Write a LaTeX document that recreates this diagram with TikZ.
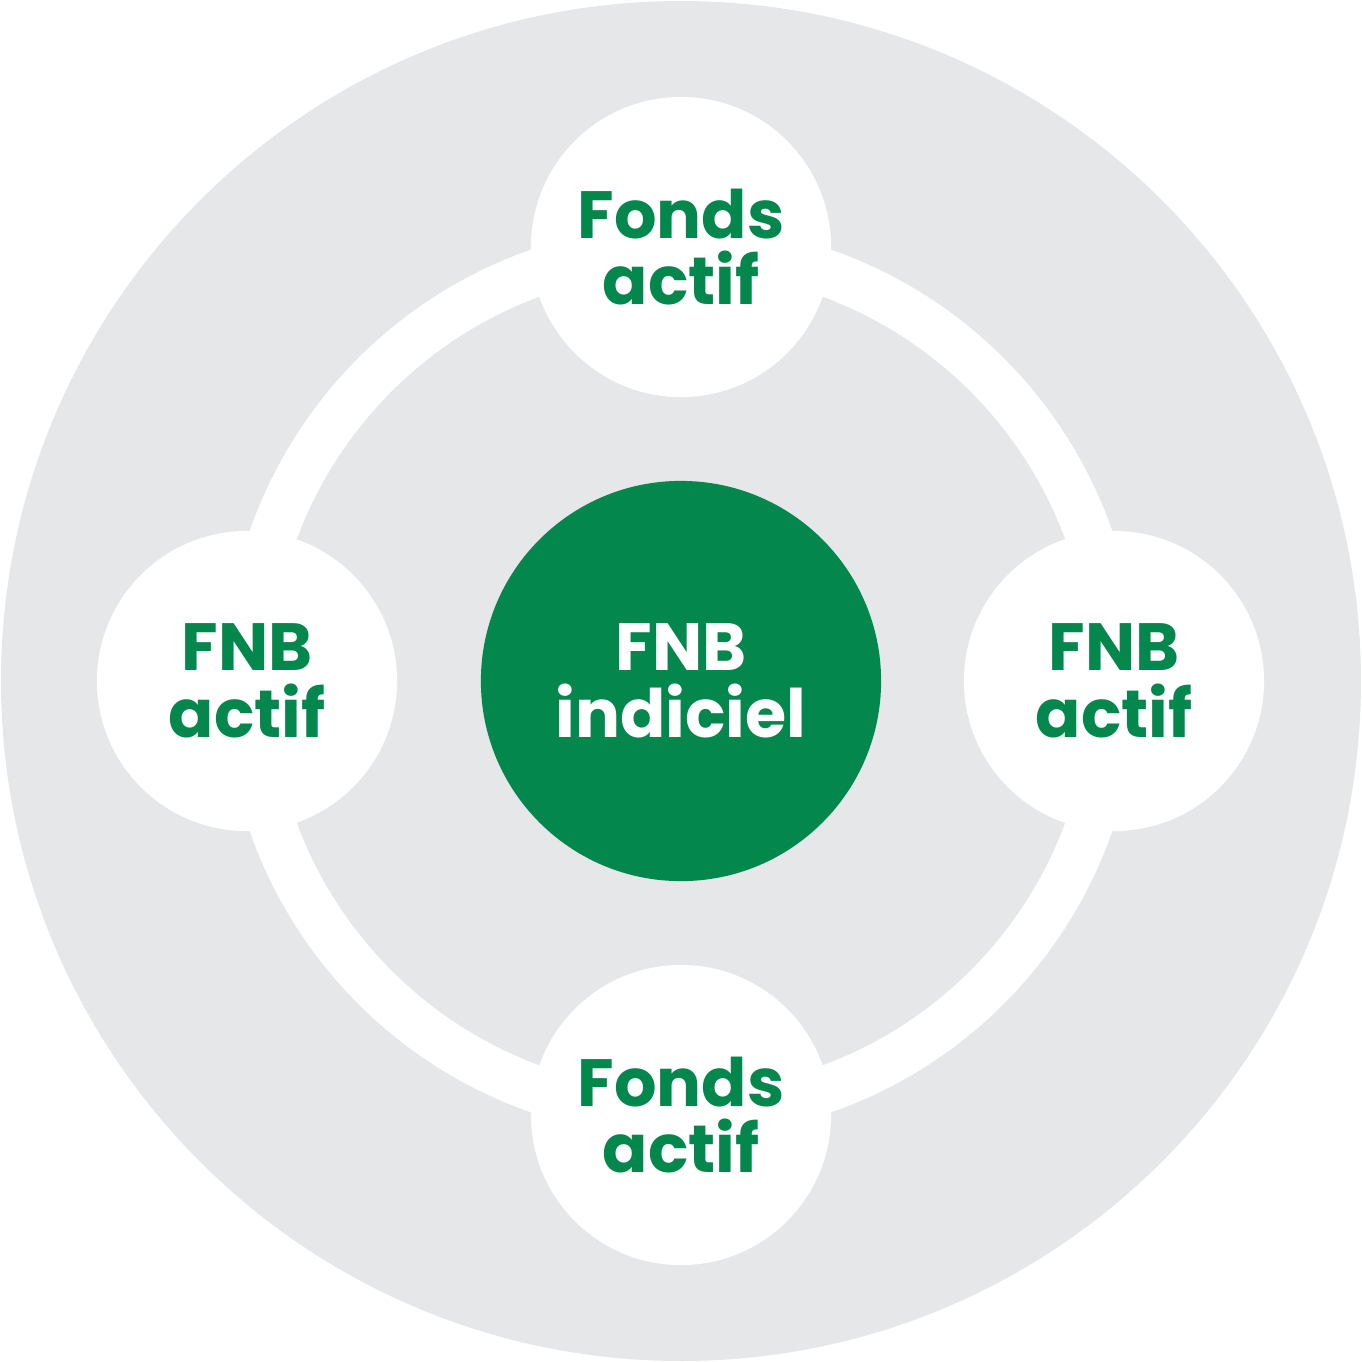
\documentclass[tikz,border=0pt]{standalone}
\usepackage{fontspec}
\setmainfont{Poppins}[BoldFont={* Bold}]
\definecolor{bggray}{HTML}{E6E7E8}
\definecolor{fgreen}{HTML}{03874D}
\begin{document}
\begin{tikzpicture}[x=0.01cm,y=-0.01cm]
\tikzset{
  sat/.style={circle,fill=white,minimum size=3cm,inner sep=0pt,align=center,text=fgreen,
    font=\fontsize{19}{19}\selectfont\bfseries},
  hub/.style={circle,fill=fgreen,minimum size=4cm,inner sep=0pt,align=center,text=white,
    font=\fontsize{19}{19}\selectfont\bfseries}
}
\useasboundingbox (0,0) rectangle (1362,1362);
\fill[bggray] (681,681) circle[radius=680];
\draw[white,line width=0.47cm] (681,681) circle[radius=433];
\node[hub] (c) at (681,681) {FNB\\indiciel};
\node[sat] (t) at (681,247) {Fonds\\actif};
\node[sat] (b) at (681,1115) {Fonds\\actif};
\node[sat] (l) at (247,681) {FNB\\actif};
\node[sat] (r) at (1114,681) {FNB\\actif};
\end{tikzpicture}
\end{document}
